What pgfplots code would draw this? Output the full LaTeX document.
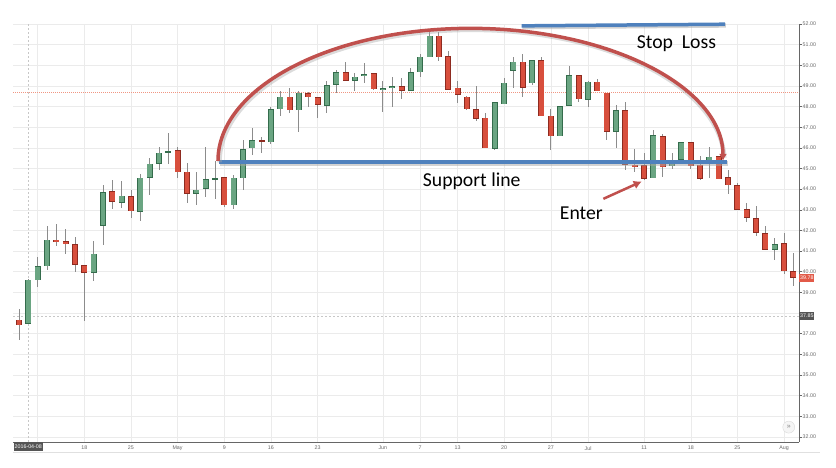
\documentclass[border=0pt]{standalone}
\usepackage{pgfplots}
\pgfplotsset{compat=1.18}
\usepackage{pgfplotstable}
\usepackage{fontspec}
\setmainfont{Liberation Sans}
\newfontfamily\calib{Carlito}
\usetikzlibrary{arrows.meta}

\definecolor{upfill}{RGB}{106,165,130}
\definecolor{upedge}{RGB}{52,108,76}
\definecolor{dnfill}{RGB}{216,79,61}
\definecolor{dnedge}{RGB}{142,43,32}
\definecolor{wick}{RGB}{140,140,140}
\definecolor{annblue}{RGB}{79,129,189}
\definecolor{annred}{RGB}{192,80,77}
\definecolor{salmon}{RGB}{240,150,130}
\definecolor{tag}{RGB}{85,85,85}
\definecolor{tagred}{RGB}{226,90,72}

% j = trading day from 2016-04-07; o h l c
\pgfplotstableread{
j o h l c
1 37.48 39.65 37.45 39.61
2 39.58 40.71 39.26 40.26
3 40.26 42.19 40.06 41.56
8 39.94 41.47 39.55 40.87
9 42.21 44.18 41.31 43.87
11 43.32 44.37 43.10 43.68
13 42.89 44.74 42.48 44.55
14 44.53 45.52 43.74 45.23
15 45.23 46.06 44.94 45.77
16 45.80 46.71 45.23 45.82
19 43.77 44.81 43.23 43.97
20 44.00 46.06 43.60 44.48
21 44.47 45.34 43.53 44.53
23 43.21 44.69 43.06 44.56
24 44.52 46.39 43.97 45.94
25 45.97 46.98 45.65 46.39
27 46.27 47.97 46.19 47.87
28 47.87 48.73 47.55 48.48
30 47.81 48.73 46.79 48.68
33 48.03 49.24 47.68 49.05
34 49.05 49.77 48.68 49.68
36 49.26 49.61 48.73 49.45
37 49.48 50.10 49.13 49.58
39 48.79 49.24 47.76 48.89
40 48.89 49.42 48.00 49.00
42 48.77 49.85 48.73 49.66
43 49.66 50.53 49.45 50.42
44 50.39 51.60 50.39 51.44
51 45.94 48.24 45.90 48.21
52 48.11 49.37 48.11 49.16
53 49.73 50.39 48.89 50.18
55 49.13 50.26 49.05 50.26
58 46.55 48.03 46.55 48.03
59 48.03 49.98 48.03 49.53
61 48.32 49.24 47.97 49.21
64 46.77 48.10 45.98 47.84
68 44.52 46.87 44.52 46.60
70 45.10 45.77 44.98 45.39
71 45.42 46.27 45.30 46.27
74 45.39 46.06 44.53 45.58
81 41.06 41.63 40.58 41.34
}\up

\pgfplotstableread{
j o h l c
0 37.68 38.21 36.71 37.40
4 41.56 42.32 41.24 41.45
5 41.47 42.06 40.84 41.32
6 41.34 41.66 39.98 40.34
7 40.32 40.32 37.61 39.94
10 43.89 44.42 43.05 43.37
12 43.66 43.97 42.60 42.92
17 45.90 46.06 44.53 44.82
18 44.85 45.27 43.32 43.77
22 44.58 44.60 43.15 43.21
26 46.37 46.52 45.77 46.31
29 48.48 48.92 47.70 47.81
31 48.65 48.70 47.97 48.44
32 48.44 48.45 47.44 48.08
35 49.66 50.15 49.26 49.26
38 49.61 49.61 48.80 48.84
41 48.98 49.37 48.35 48.77
45 51.44 51.60 50.23 50.39
46 50.45 50.69 48.81 48.81
47 48.92 49.24 48.16 48.56
48 48.48 48.52 47.84 47.87
49 47.87 49.00 47.32 47.39
50 47.47 47.68 45.97 45.97
54 50.18 50.53 48.45 48.92
56 50.26 50.42 47.52 47.52
57 47.56 47.90 45.90 46.55
60 49.53 49.53 48.23 48.35
62 49.21 49.34 48.73 48.73
63 48.68 48.68 46.39 46.79
65 47.81 48.24 44.94 45.18
66 45.18 45.94 44.85 45.10
67 45.15 45.74 44.45 44.50
69 46.55 46.66 44.61 45.05
72 46.27 46.27 44.98 45.10
73 45.18 45.61 44.45 44.50
75 45.61 45.61 44.48 44.48
76 44.58 44.94 43.76 44.18
77 44.18 44.29 43.00 43.00
78 43.03 43.32 42.39 42.60
79 42.60 43.16 41.71 41.87
80 41.87 42.19 41.06 41.06
82 41.39 41.87 39.90 40.02
83 40.02 40.90 39.29 39.69
}\down

\pgfplotsset{
  wicks/.style={draw=none, mark=none, forget plot,
    error bars/.cd, y dir=both, y explicit, error mark=none,
    error bar style={draw=wick, line width=0.8bp}},
  body/.style 2 args={draw=none, mark=none, forget plot,
    error bars/.cd, y dir=both, y explicit, error mark=none,
    error bar style={draw=#1, line width=#2}},
}

\begin{document}
\begin{tikzpicture}
\useasboundingbox (0,0) rectangle (836bp,468bp);
\begin{axis}[
  at={(13bp,26bp)}, anchor=south west,
  scale only axis, width=786bp, height=418bp,
  xmin=-0.64, xmax=83.6, ymin=31.75, ymax=52.0,
  clip=false,
  axis x line*=bottom, axis y line*=right,
  axis line style={draw=black!60, line width=0.8bp},
  xtick={2,7,12,17,22,27,32,39,43,47,52,57,61,67,72,77,82},
  xticklabels={,18,25,May,9,16,23,Jun,7,13,20,27,Jul,11,18,25,Aug},
  ytick={32,33,...,52},
  yticklabels={32.00,33.00,34.00,35.00,36.00,37.00,,39.00,40.00,41.00,42.00,43.00,44.00,45.00,46.00,47.00,48.00,49.00,50.00,51.00,52.00},
  grid=major,
  major grid style={draw=black!8, line width=0.5bp},
  xtick style={draw=none},
  ytick style={draw=black!60, line width=0.5bp},
  tick align=outside, major tick length=2.5bp,
  yticklabel style={font=\fontsize{5.3bp}{6bp}\selectfont, text=black!60, inner sep=1bp},
  xticklabel style={font=\fontsize{5.3bp}{6bp}\selectfont, text=black!60, inner sep=1.5bp},
]
% crosshair and price lines
\draw[black!22, line width=0.6bp, dash pattern=on 2bp off 2bp] (axis cs:1,31.75) -- (axis cs:1,52);
\draw[black!22, line width=0.6bp, dash pattern=on 2bp off 2bp] (axis cs:-0.64,37.85) -- (axis cs:83.6,37.85);
\draw[salmon, line width=0.6bp, dash pattern=on 1bp off 1bp] (axis cs:-0.64,48.71) -- (axis cs:83.6,48.71);

% wicks
\addplot[wicks] table[x=j, y expr={(\thisrow{h}+\thisrow{l})/2}, y error expr={(\thisrow{h}-\thisrow{l})/2}] {\up};
\addplot[wicks] table[x=j, y expr={(\thisrow{h}+\thisrow{l})/2}, y error expr={(\thisrow{h}-\thisrow{l})/2}] {\down};
% bodies: edge then fill
\addplot[body={upedge}{6bp}] table[x=j, y expr={(\thisrow{o}+\thisrow{c})/2}, y error expr={max(abs(\thisrow{c}-\thisrow{o})/2,0.05)}] {\up};
\addplot[body={upfill}{4.6bp}] table[x=j, y expr={(\thisrow{o}+\thisrow{c})/2}, y error expr={max(abs(\thisrow{c}-\thisrow{o})/2-0.034,0)}] {\up};
\addplot[body={dnedge}{6bp}] table[x=j, y expr={(\thisrow{o}+\thisrow{c})/2}, y error expr={max(abs(\thisrow{c}-\thisrow{o})/2,0.05)}] {\down};
\addplot[body={dnfill}{4.6bp}] table[x=j, y expr={(\thisrow{o}+\thisrow{c})/2}, y error expr={max(abs(\thisrow{c}-\thisrow{o})/2-0.034,0)}] {\down};

% price tags
\node[fill=tag, text=white, font=\fontsize{5.3bp}{6bp}\selectfont, inner sep=1bp, minimum height=9bp, anchor=north]
  at (axis cs:1,31.75) {2016-04-08};
\node[fill=tag, text=white, font=\fontsize{5.3bp}{6bp}\selectfont, inner sep=1bp, minimum height=8bp, anchor=west]
  at (axis cs:83.6,37.85) {37.85};
\node[fill=tagred, text=white, font=\fontsize{5.3bp}{6bp}\selectfont, inner sep=1bp, minimum height=8bp, anchor=west]
  at (axis cs:83.6,39.70) {39.78};
\node[circle, fill=black!4, draw=black!15, minimum size=12bp, inner sep=0pt, text=black!50, font=\fontsize{7bp}{8bp}\selectfont]
  at (axis cs:82.5,32.47) {»};

% annotations
\draw[black!35, opacity=0.5, line width=4.5bp] (axis cs:53.95,51.85) -- (axis cs:75.75,51.93);
\draw[annblue, line width=3.5bp] (axis cs:53.88,51.91) -- (axis cs:75.67,51.99);
\draw[black!35, opacity=0.5, line width=5bp] (axis cs:21.5,45.25) -- (axis cs:76.0,45.25);
\draw[annblue, line width=4bp] (axis cs:21.4,45.32) -- (axis cs:75.9,45.32);
\draw[black!35, opacity=0.4, line width=4.5bp] ([xshift=1.5bp,yshift=-1.5bp]axis cs:21.33,45.37)
  arc[start angle=180, end angle=2, x radius=252.5bp, y radius=132.5bp];
\draw[annred, line width=3.5bp, -{Latex[length=7bp,width=8bp]}] (axis cs:21.33,45.37)
  arc[start angle=180, end angle=0, x radius=252.5bp, y radius=132.5bp];
\draw[annred, line width=2.5bp, -{Latex[length=8bp,width=9bp]}] (axis cs:62.63,43.53) -- (axis cs:66.74,44.37);

\node[font=\calib\fontsize{19.7bp}{22bp}\selectfont] at (axis cs:70.47,51.04) {Stop~~Loss};
\node[font=\calib\fontsize{19.7bp}{22bp}\selectfont, anchor=base] at (axis cs:48.52,44.12) {Support line};
\node[font=\calib\fontsize{19.7bp}{22bp}\selectfont, anchor=base] at (axis cs:60.27,42.51) {Enter};
\end{axis}
% faint rule under the date axis
\draw[black!12, line width=0.8bp] (13bp,16bp) -- (820bp,16bp);
\end{tikzpicture}
\end{document}
